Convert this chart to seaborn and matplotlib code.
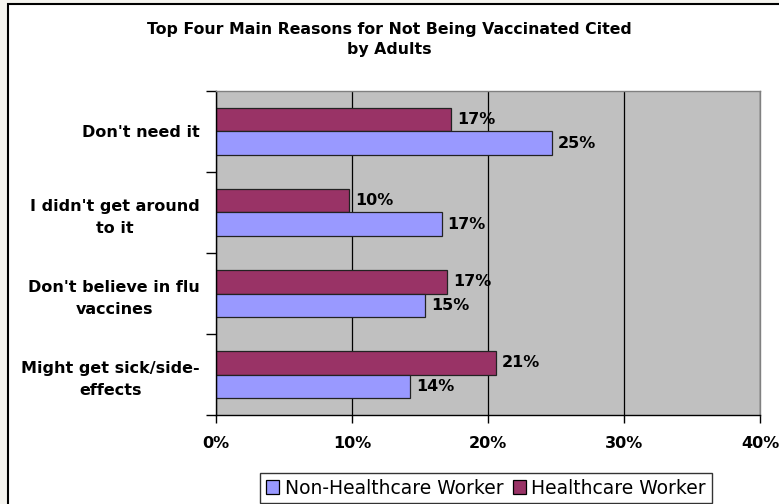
import numpy as np
import pandas as pd
import matplotlib
matplotlib.use("Agg")
import matplotlib.pyplot as plt
from matplotlib.patches import Patch, Rectangle
import seaborn as sns

# data (percent of adults)
reasons = ["Don't need it", "I didn't get around\nto it",
           "Don't believe in flu\nvaccines", "Might get sick/side-\neffects"]
healthcare = [17.3, 9.8, 17.0, 20.6]
non_healthcare = [24.7, 16.6, 15.4, 14.3]
groups = ["Healthcare Worker", "Non-Healthcare Worker"]
colors = {"Healthcare Worker": "#993366", "Non-Healthcare Worker": "#9999FF"}
x_ticks = [0, 10, 20, 30, 40]

df = pd.DataFrame({
    "reason": reasons * 2,
    "value": healthcare + non_healthcare,
    "group": [groups[0]] * 4 + [groups[1]] * 4,
})

sns.set_style("white")
plt.rcParams["font.family"] = ["DejaVu Sans"]
plt.rcParams["text.color"] = "black"
plt.rcParams["xtick.color"] = "black"
plt.rcParams["ytick.color"] = "black"
plt.rcParams["xtick.labelcolor"] = "black"
plt.rcParams["ytick.labelcolor"] = "black"

fig = plt.figure(figsize=(7.79, 5.04), dpi=100, facecolor="#F5F4EF")
# white chart area with black frame (cut off at right / bottom)
fig.patches.append(Rectangle((8 / 779, -0.05), 1.0, 1 - 4 / 504 + 0.05,
                             transform=fig.transFigure, facecolor="white",
                             edgecolor="black", linewidth=1.5, zorder=-10))

ax = fig.add_axes([216 / 779, 1 - 415 / 504, (760 - 216) / 779, (415 - 91) / 504])
ax.set_facecolor("#C0C0C0")

sns.barplot(data=df, x="value", y="reason", hue="group", hue_order=groups,
            palette=colors, saturation=1, orient="h", width=0.57,
            edgecolor="#222222", linewidth=0.9, legend=False, ax=ax)

for cont in ax.containers:
    ax.bar_label(cont, fmt="%.0f%%", padding=4, fontsize=11.5, fontweight="bold",
                 color="black")

ax.set_xlim(0, 40)
ax.set_xticks(x_ticks)
ax.set_xticklabels([f"{t}%" for t in x_ticks], fontsize=11.5, fontweight="bold")
ax.tick_params(axis="x", direction="out", length=6, width=1, pad=9, bottom=True,
               color="black")
ax.grid(axis="x", color="black", linewidth=0.9)
ax.set_axisbelow(True)

ax.set_ylim(3.5, -0.5)
ax.set_yticks(range(len(reasons)))
ax.set_yticklabels(reasons, fontsize=11.5, fontweight="bold",
                   multialignment="center", linespacing=1.6)
ax.tick_params(axis="y", which="major", length=0, pad=11.5)
ax.set_yticks(np.arange(-0.5, len(reasons), 1.0), minor=True)
ax.tick_params(axis="y", which="minor", direction="out", length=7, width=1,
               left=True, color="black")
ax.set_xlabel("")
ax.set_ylabel("")

for side in ["left", "bottom"]:
    ax.spines[side].set_color("black")
    ax.spines[side].set_linewidth(1)
for side in ["top", "right"]:
    ax.spines[side].set_color("#808080")
    ax.spines[side].set_linewidth(1)

fig.text(0.5, 1 - 39.5 / 504, "Top Four Main Reasons for Not Being Vaccinated Cited\nby Adults",
         ha="center", va="center", fontsize=11.3, fontweight="bold",
         linespacing=1.45, color="black")

handles = [Patch(facecolor=colors[g], edgecolor="black", linewidth=0.9)
           for g in ["Non-Healthcare Worker", "Healthcare Worker"]]
leg = fig.legend(handles, ["Non-Healthcare Worker", "Healthcare Worker"],
                 loc="center", bbox_to_anchor=(486 / 779, 1 - 488 / 504), ncol=2,
                 fontsize=13.5, frameon=True, fancybox=False, handlelength=0.7,
                 handleheight=0.7, handletextpad=0.3, columnspacing=0.5,
                 borderpad=0.3, borderaxespad=0)
leg.get_frame().set_edgecolor("black")
leg.get_frame().set_linewidth(1)
for t in leg.get_texts():
    t.set_color("black")

fig.savefig("out.png", dpi=100, facecolor=fig.get_facecolor())
